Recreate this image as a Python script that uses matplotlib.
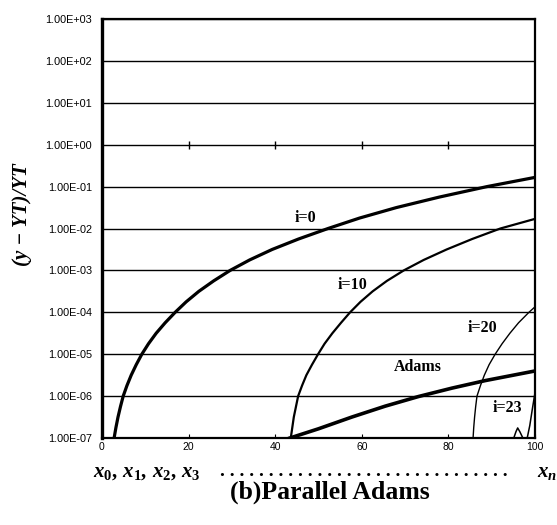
import numpy as np
import matplotlib
matplotlib.use("Agg")
import matplotlib.pyplot as plt

# ---- data (log10 of relative error) ----
x_i0 = [2.8, 3.22, 3.70, 4.27, 4.9, 5.76, 6.75, 7.91, 9.2, 10.74, 12.51, 14.59, 16.9,
        19.44, 22.36, 25.79, 29.6, 34.1, 39.3, 45.4, 52.2, 59.5, 68.0, 77.9, 88.9, 100.0]
lg_i0 = [-7.0, -6.75, -6.5, -6.25, -6.0, -5.75, -5.5, -5.25, -5.0, -4.75, -4.5, -4.25, -4.0,
         -3.75, -3.5, -3.25, -3.0, -2.75, -2.5, -2.25, -2.0, -1.75, -1.5, -1.25, -1.0, -0.78]

x_i10 = [43.6, 43.95, 44.3, 44.8, 45.3, 46.2, 47.2, 48.5, 49.9, 51.4, 53.2, 55.2, 57.3,
         59.7, 62.5, 65.8, 69.7, 74.3, 79.6, 85.5, 92.0, 100.0]
lg_i10 = [-7.0, -6.75, -6.5, -6.25, -6.0, -5.75, -5.5, -5.25, -5.0, -4.75, -4.5, -4.25, -4.0,
          -3.75, -3.5, -3.25, -3.0, -2.75, -2.5, -2.25, -2.0, -1.77]

x_i20 = [85.7, 85.85, 86.05, 86.3, 86.6, 87.4, 88.3, 89.4, 90.8, 92.4, 94.2, 96.2, 98.6, 100.0]
lg_i20 = [-7.0, -6.75, -6.5, -6.25, -6.0, -5.75, -5.5, -5.25, -5.0, -4.75, -4.5, -4.25, -4.0, -3.87]

x_adams = [43.4, 50.0, 57.7, 65.4, 73.1, 80.8, 88.5, 100.0]
lg_adams = [-7.0, -6.78, -6.50, -6.24, -6.01, -5.81, -5.63, -5.40]

x_i23 = [94.5, 95.1, 95.6, 96.0, 96.5, 97.2, 97.8, 98.2, 98.8, 99.4, 100.0]
lg_i23 = [-7.3, -7.0, -6.85, -6.76, -6.85, -7.0, -7.3, -7.0, -6.7, -6.3, -5.92]

x_ticks = [0, 20, 40, 60, 80, 100]
y_exps = [3, 2, 1, 0, -1, -2, -3, -4, -5, -6, -7]
y_labels = ["1.00E+03", "1.00E+02", "1.00E+01", "1.00E+00", "1.00E-01", "1.00E-02",
            "1.00E-03", "1.00E-04", "1.00E-05", "1.00E-06", "1.00E-07"]

plt.rcParams['mathtext.fontset'] = 'custom'
plt.rcParams['mathtext.rm'] = 'Liberation Serif:bold'
plt.rcParams['mathtext.it'] = 'Liberation Serif:italic:bold'
plt.rcParams['mathtext.bf'] = 'Liberation Serif:bold'

fig = plt.figure(figsize=(5.57, 5.25), dpi=100)
ax = fig.add_axes([0.1831, 0.1657, 0.7774, 0.7981])
ax.set_yscale('log')
ax.set_xlim(0, 100)
ax.set_ylim(1e-7, 1e3)

# horizontal grid lines at each decade
for e in y_exps:
    ax.axhline(10.0 ** e, color='black', lw=1.0, zorder=1)

def pw(lst):
    return [10.0 ** v for v in lst]

ax.plot(x_i0, pw(lg_i0), color='black', lw=2.3, zorder=3, solid_joinstyle='round')
ax.plot(x_i10, pw(lg_i10), color='black', lw=1.6, zorder=3, solid_joinstyle='round')
ax.plot(x_i20, pw(lg_i20), color='black', lw=1.0, zorder=3, solid_joinstyle='round')
ax.plot(x_adams, pw(lg_adams), color='black', lw=2.6, zorder=3, solid_joinstyle='round')
ax.plot(x_i23, pw(lg_i23), color='black', lw=1.1, zorder=3, solid_joinstyle='round')

# small tick crosses on the 1.00E+00 line
ax.plot(x_ticks[1:-1], [1.0] * 4, ls='none', marker='|', ms=6, mew=1.0, color='black')

lab_kw = dict(family='Liberation Serif', fontsize=11.5, fontweight='bold', ha='center', va='center')
ax.text(46.9, 10 ** -1.74, "i=0", **lab_kw)
ax.text(57.9, 10 ** -3.36, "i=10", **lab_kw)
ax.text(87.9, 10 ** -4.37, "i=20", **lab_kw)
ax.text(72.9, 10 ** -5.30, "Adams", **lab_kw)
ax.text(93.5, 10 ** -6.28, "i=23", **lab_kw)

ax.set_xticks(x_ticks)
ax.set_xticklabels([str(v) for v in x_ticks], family='Liberation Sans', fontsize=7.5)
ax.set_yticks([10.0 ** e for e in y_exps])
ax.set_yticklabels(y_labels, family='Liberation Sans', fontsize=7.8)
ax.minorticks_off()
ax.tick_params(axis='y', length=0, pad=7)
ax.tick_params(axis='x', length=3, direction='in', pad=3)

for s in ['left']:
    ax.spines[s].set_linewidth(2.4)
for s in ['top', 'right', 'bottom']:
    ax.spines[s].set_linewidth(1.6)

# y label
fig.text(22 / 557, 1 - 215 / 525, "(y − YT)/YT", rotation=90, ha='center', va='center',
         family='Liberation Serif', style='italic', fontweight='bold', fontsize=15)

# x sequence row
row_y = 1 - 472 / 525
fig.text(93 / 557, row_y, r"$x_0,\,x_1,\,x_2,\,x_3$", ha='left', va='center', fontsize=15)
fig.text(220 / 557, row_y, ". " * 30, ha='left', va='center',
         family='Liberation Serif', fontweight='bold', fontsize=14)
fig.text(537 / 557, row_y, r"$x_n$", ha='left', va='center', fontsize=15)

# title
fig.text(330 / 557, 1 - 492 / 525, "(b)Parallel Adams", ha='center', va='center',
         family='Liberation Serif', fontweight='bold', fontsize=18.5)

fig.savefig("out.png", dpi=100)
